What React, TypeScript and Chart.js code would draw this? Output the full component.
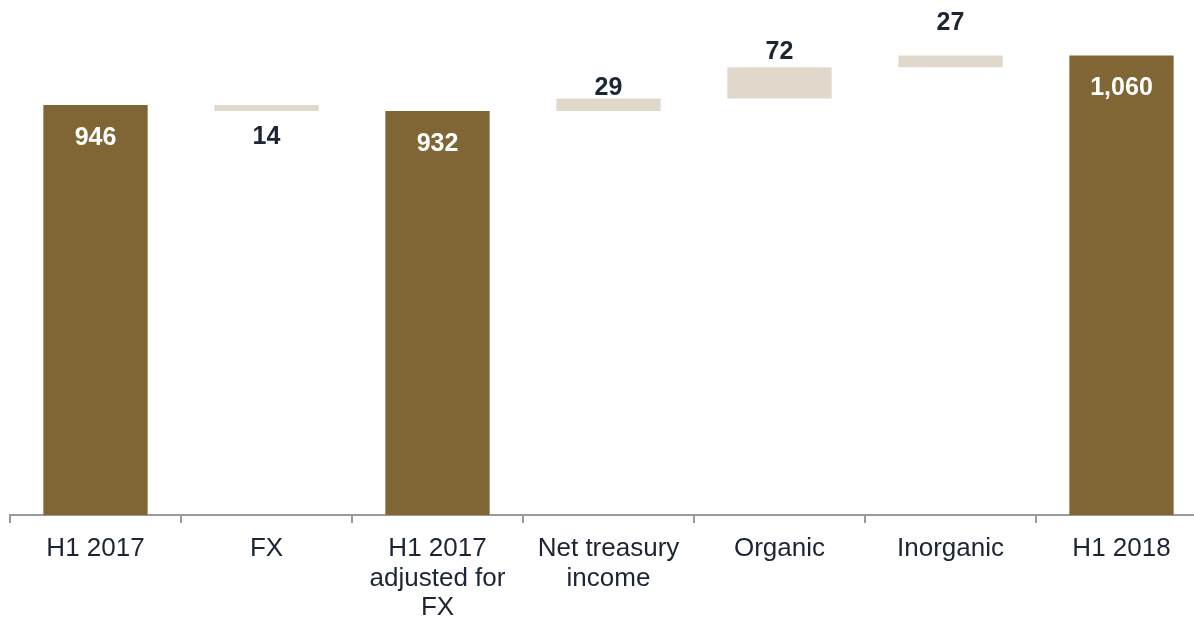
import React, { useEffect, useRef } from "react";
import { Chart, registerables } from "chart.js";

Chart.register(...registerables);

// ---- data ----
const categories: string[][] = [
  ["H1 2017"],
  ["FX"],
  ["H1 2017", "adjusted for", "FX"],
  ["Net treasury", "income"],
  ["Organic"],
  ["Inorganic"],
  ["H1 2018"],
];
const changes: number[] = [946, -14, 932, 29, 72, 27, 1060];
const isTotal: boolean[] = [true, false, true, false, false, false, true];
const valueLabels: string[] = ["946", "14", "932", "29", "72", "27", "1,060"];

// ---- style ----
const TOTAL_COLOR = "#816635";
const DELTA_COLOR = "#e0d9cb";
const TEXT_DARK = "#1c2533";
const AXIS_GRAY = "#9a9a9a";
const FONT = "'Liberation Sans', Arial, Helvetica, sans-serif";
const labelGap: number[] = [30, 23, 30, 13, 18, 35, 30];
const TEXT_SHIFT = 3;

function buildRanges(): [number, number][] {
  let running = 0;
  return changes.map((v, i) => {
    if (isTotal[i]) {
      running = v;
      return [0, v] as [number, number];
    }
    const start = running;
    running += v;
    return [start, running] as [number, number];
  });
}

const valueLabelPlugin = {
  id: "valueLabelPlugin",
  afterDatasetsDraw(chart: any) {
    const ctx = chart.ctx as CanvasRenderingContext2D;
    const meta = chart.getDatasetMeta(0);
    ctx.save();
    ctx.font = `bold 25px ${FONT}`;
    ctx.textAlign = "center";
    ctx.textBaseline = "middle";
    meta.data.forEach((bar: any, i: number) => {
      const p = bar.getProps(["x", "y", "base"], true);
      const top = Math.min(p.y, p.base);
      const bottom = Math.max(p.y, p.base);
      let y: number;
      if (isTotal[i]) {
        ctx.fillStyle = "#ffffff";
        y = top + labelGap[i];
      } else if (changes[i] < 0) {
        ctx.fillStyle = TEXT_DARK;
        y = bottom + labelGap[i];
      } else {
        ctx.fillStyle = TEXT_DARK;
        y = top - labelGap[i];
      }
      ctx.fillText(valueLabels[i], p.x, y + TEXT_SHIFT);
    });
    ctx.restore();
  },
};

export default function App() {
  const canvasRef = useRef<HTMLCanvasElement | null>(null);

  useEffect(() => {
    if (!canvasRef.current) return;
    const ranges = buildRanges();
    const chart = new Chart(canvasRef.current, {
      type: "bar",
      data: {
        labels: categories,
        datasets: [
          {
            data: ranges as any,
            backgroundColor: isTotal.map((t) => (t ? TOTAL_COLOR : DELTA_COLOR)),
            borderWidth: 0,
            categoryPercentage: 1,
            barPercentage: 0.61,
          },
        ],
      },
      options: {
        animation: false,
        responsive: false,
        maintainAspectRatio: false,
        layout: { padding: { left: 10, right: 8, top: 0, bottom: 0 } },
        plugins: {
          legend: { display: false },
          tooltip: { enabled: false },
        },
        scales: {
          x: {
            offset: true,
            grid: {
              display: true,
              offset: true,
              drawOnChartArea: false,
              drawTicks: true,
              tickLength: 8,
              color: AXIS_GRAY,
              lineWidth: 2,
            },
            border: { display: true, color: AXIS_GRAY, width: 2 },
            ticks: {
              color: TEXT_DARK,
              font: { family: FONT, size: 26, lineHeight: 1.14 },
              padding: 11,
              maxRotation: 0,
              minRotation: 0,
              autoSkip: false,
            },
            afterFit: (scale: any) => {
              scale.height = 102;
            },
          },
          y: {
            display: false,
            min: 0,
            max: 1188,
          },
        },
      },
      plugins: [valueLabelPlugin],
    });
    return () => chart.destroy();
  }, []);

  return (
    <div
      style={{
        position: "fixed",
        left: 0,
        top: 0,
        width: 1194,
        height: 617,
        overflow: "hidden",
        background: "#ffffff",
      }}
    >
      <canvas ref={canvasRef} width={1215} height={617} style={{ display: "block" }} />
    </div>
  );
}
